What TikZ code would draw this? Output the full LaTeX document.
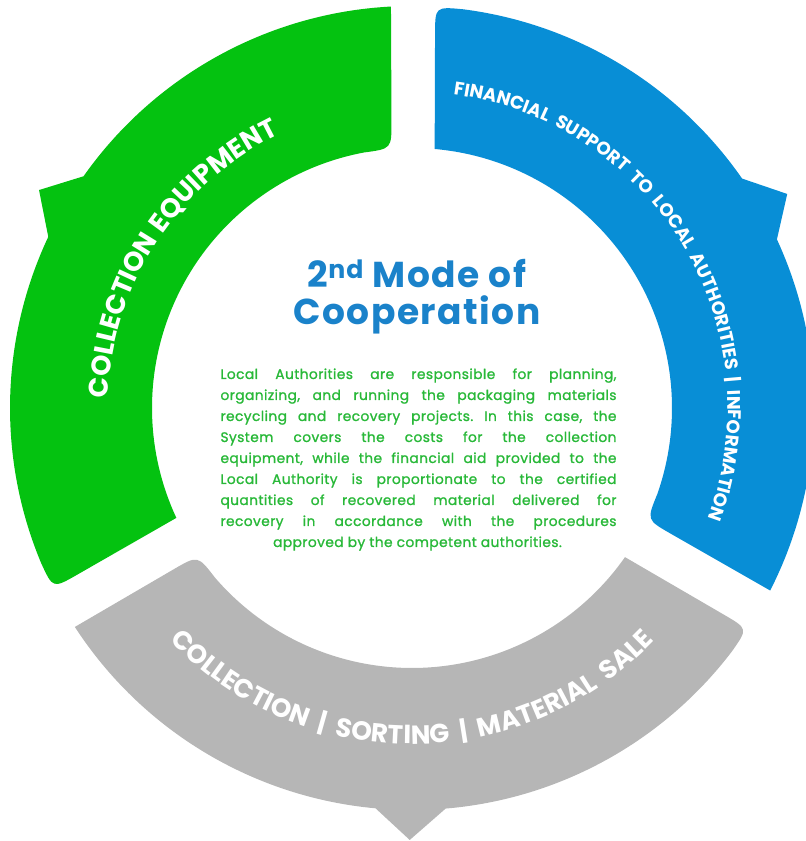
\documentclass[tikz,border=0pt]{standalone}
\usepackage{fontspec}
\setmainfont{Poppins}
\newfontfamily\bodyfont{Poppins}[FakeBold=1.2, LetterSpace=3]
\newfontfamily\titlefont{Poppins}[LetterSpace=4]
\newfontfamily\ringfont{Poppins}[LetterSpace=5]
\usetikzlibrary{calc,decorations.text}
\definecolor{segGreen}{RGB}{4,194,16}
\definecolor{segBlue}{RGB}{8,142,214}
\definecolor{segGray}{RGB}{182,182,182}
\definecolor{titleBlue}{RGB}{26,130,202}
\definecolor{bodyGreen}{RGB}{40,184,56}
\frenchspacing
\newcommand{\ringpiece}[1]{%
  \coordinate (C) at (86.7:402pt);
  \coordinate (I1) at (85:260pt);
  \coordinate (E) at (-27:402pt);
  \coordinate (D) at (-25.5:260pt);
  \fill[#1] ($(C)!28pt!(I1)$) .. controls (C) .. (82.7:402pt)
     arc[start angle=82.7, end angle=34.8, radius=402pt]
     -- (29.7:432pt) -- (24.8:402pt)
     arc[start angle=24.8, end angle=-27, radius=402pt]
     -- ($(D)!28pt!(E)$) .. controls (D) .. (-19.33:260pt)
     arc[start angle=-19.33, end angle=85, radius=260pt] -- cycle;
}
\newcommand{\bigring}{\ringfont\bfseries\fontsize{27pt}{27pt}\selectfont}
\newcommand{\grayring}{\ringfont\bfseries\fontsize{26.2pt}{26.2pt}\selectfont\fontdimen2\font=0.42em}
\newcommand{\smallring}{\ringfont\bfseries\fontsize{18.3pt}{18.3pt}\selectfont\fontdimen2\font=0.42em}
\tikzset{
  ringtext/.style={decorate, decoration={text along path, text format delimiters={[}{]}, text align=center, text color=white, text={#1}}},
  bodyline/.style={anchor=base, inner sep=0pt, text=bodyGreen, font=\bodyfont\fontsize{13.8pt}{13.8pt}\selectfont},
  titleline/.style={anchor=base, inner sep=0pt, text=titleBlue, font=\titlefont\bfseries\fontsize{36pt}{36pt}\selectfont}
}
\begin{document}
\begin{tikzpicture}[x=1pt,y=1pt]
\useasboundingbox (0,0) rectangle (806,841);
\clip (0,0) rectangle (806,841);
\begin{scope}[shift={(412,433)}]
  \begin{scope}[rotate=0]\ringpiece{segBlue}\end{scope}
  \begin{scope}[rotate=-120]\ringpiece{segGray}\end{scope}
  \begin{scope}[rotate=120]\ringpiece{segGreen}\end{scope}
  \path[ringtext={[\bigring]COLLECTION EQUIPMENT}] (202:304pt) arc[start angle=202, end angle=92, radius=304pt];
  \path[ringtext={[\smallring]FINANCIAL SUPPORT TO LOCAL AUTHORITIES | INFORMATION}] (97:316pt) arc[start angle=97, end angle=-35, radius=316pt];
  \path[ringtext={[\grayring]COLLECTION | SORTING | MATERIAL SALE}] (212:336pt) arc[start angle=212, end angle=328, radius=336pt];
\end{scope}
\node[titleline] (t1) at (417,553) {2\textsuperscript{nd} Mode of};
\node[titleline] (t2) at (417,516) {Cooperation};
\node[bodyline] (b1) at (418.5,462) {\makebox[396pt][s]{Local Authorities are responsible for planning,}};
\node[bodyline] (b2) at (418.5,441) {\makebox[396pt][s]{organizing, and running the packaging materials}};
\node[bodyline] (b3) at (418.5,420) {\makebox[396pt][s]{recycling and recovery projects. In this case, the}};
\node[bodyline] (b4) at (418.5,399) {\makebox[396pt][s]{System covers the costs for the collection}};
\node[bodyline] (b5) at (418.5,378) {\makebox[396pt][s]{equipment, while the financial aid provided to the}};
\node[bodyline] (b6) at (418.5,357) {\makebox[396pt][s]{Local Authority is proportionate to the certified}};
\node[bodyline] (b7) at (418.5,336) {\makebox[396pt][s]{quantities of recovered material delivered for}};
\node[bodyline] (b8) at (418.5,315) {\makebox[396pt][s]{recovery in accordance with the procedures}};
\node[bodyline] (b9) at (417.5,294) {approved by the competent authorities.};
\end{tikzpicture}
\end{document}
